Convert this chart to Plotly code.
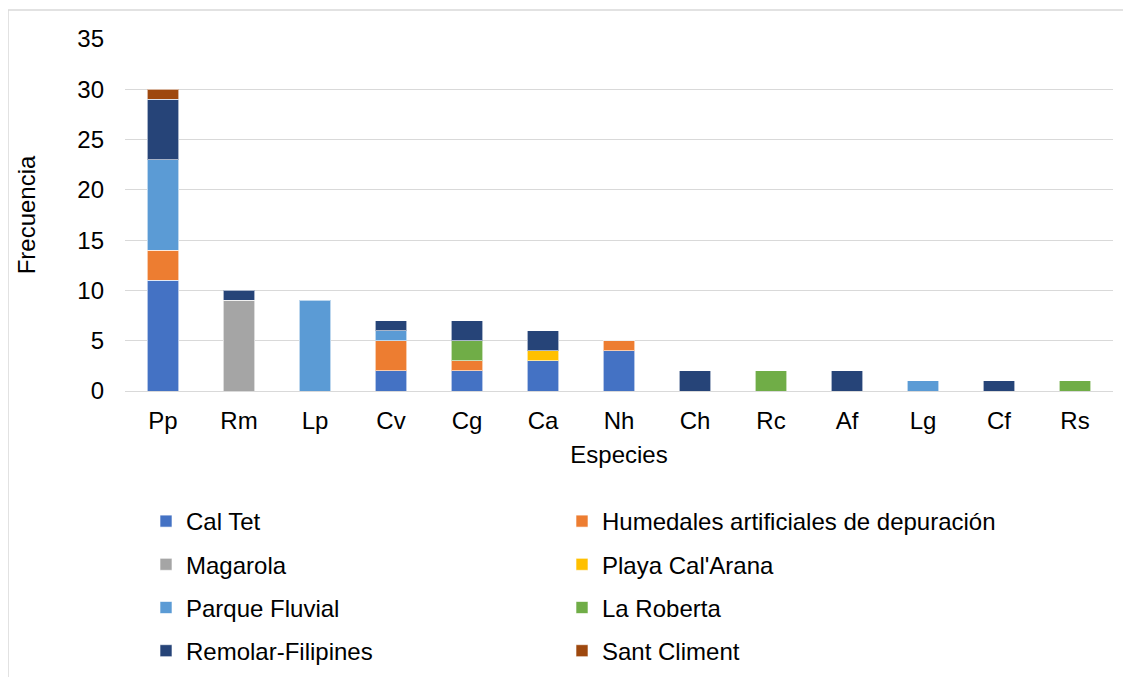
import plotly.graph_objects as go

categories = ["Pp", "Rm", "Lp", "Cv", "Cg", "Ca", "Nh", "Ch", "Rc", "Af", "Lg", "Cf", "Rs"]

cal_tet = [11, None, None, 2, 2, 3, 4, None, None, None, None, None, None]
humedales = [3, None, None, 3, 1, None, 1, None, None, None, None, None, None]
magarola = [None, 9, None, None, None, None, None, None, None, None, None, None, None]
playa = [None, None, None, None, None, 1, None, None, None, None, None, None, None]
parque = [9, None, 9, 1, None, None, None, None, None, None, 1, None, None]
roberta = [None, None, None, None, 2, None, None, None, 2, None, None, None, 1]
remolar = [6, 1, None, 1, 2, 2, None, 2, None, 2, None, 1, None]
sant_climent = [1, None, None, None, None, None, None, None, None, None, None, None, None]

series = [
    ("Cal Tet", cal_tet, "#4472C4", "legend"),
    ("Humedales artificiales de depuración", humedales, "#ED7D31", "legend2"),
    ("Magarola", magarola, "#A5A5A5", "legend"),
    ("Playa Cal'Arana", playa, "#FFC000", "legend2"),
    ("Parque Fluvial", parque, "#5B9BD5", "legend"),
    ("La Roberta", roberta, "#70AD47", "legend2"),
    ("Remolar-Filipines", remolar, "#264478", "legend"),
    ("Sant Climent", sant_climent, "#9E480E", "legend2"),
]

FONT = "Liberation Sans, Arial, sans-serif"
FS = 24

fig = go.Figure()
for name, vals, color, leg in series:
    fig.add_trace(go.Bar(
        x=categories, y=vals, name=name, legend=leg, legendgroup=name,
        marker=dict(color=color, line=dict(color="rgba(255,255,255,0.6)", width=1)),
    ))

# page body has an 8px margin, so the figure is offset by (8, 8) in the window
OFF = 8
W, H = 1131 - OFF, 677 - OFF
L, R, T, B = 125 - OFF, 18, 39 - OFF, 286
pw, ph = W - L - R, H - T - B

def px(xr):
    return (xr - OFF - L) / pw

def py(yr):
    return (H - B - (yr - OFF)) / ph

legend_common = dict(
    orientation="v", traceorder="grouped", tracegroupgap=9,
    font=dict(family=FONT, size=FS, color="#000000"),
    bgcolor="rgba(0,0,0,0)", yanchor="top", xanchor="left",
)

fig.update_layout(
    width=W, height=H,
    margin=dict(l=L, r=R, t=T, b=B, autoexpand=False),
    barmode="stack", bargap=0.59,
    plot_bgcolor="white", paper_bgcolor="white",
    font=dict(family=FONT, size=FS, color="#000000"),
    legend=dict(**legend_common, x=px(146), y=py(499)),
    legend2=dict(**legend_common, x=px(562), y=py(499)),
    xaxis=dict(
        title=dict(text="Especies", font=dict(size=FS), standoff=13),
        showline=False, showgrid=False, ticks="", tickfont=dict(size=FS),
        ticklabelstandoff=13, automargin=False,
    ),
    yaxis=dict(
        title=dict(text="Frecuencia", font=dict(size=FS), standoff=34),
        range=[0, 35], dtick=5, showgrid=True, gridcolor="#D9D9D9", gridwidth=1.3,
        zeroline=True, zerolinecolor="#D9D9D9", zerolinewidth=1.3,
        showline=False, ticks="", tickfont=dict(size=FS), ticklabelstandoff=20,
        automargin=False,
    ),
    shapes=[dict(
        type="rect", xref="paper", yref="paper",
        x0=px(8), x1=px(1145), y0=py(700), y1=py(10),
        line=dict(color="#D9D9D9", width=1.5), fillcolor="rgba(0,0,0,0)", layer="below",
    )],
)

fig.write_html("out.html")
